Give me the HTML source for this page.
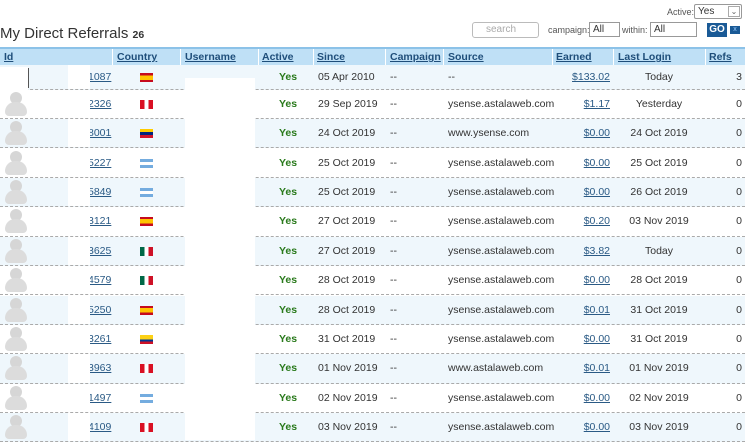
<!DOCTYPE html>
<html><head><meta charset="utf-8"><style>
*{margin:0;padding:0;box-sizing:border-box}
body{width:750px;height:440px;overflow:hidden;background:#fff;font-family:"Liberation Sans",sans-serif;font-size:10px;color:#333;position:relative}
.a{position:absolute;white-space:nowrap}
.h{position:absolute;left:0;top:47px;width:745px;height:18px;background:#bfe0f6;border-top:2px solid #8cc2e8}
.h span{position:absolute;top:2px;font-weight:bold;color:#1f4e7a;text-decoration:underline;font-size:10.5px}
.h i{position:absolute;top:0;width:1px;height:16px;background:#fff}
.r{position:absolute;left:0;width:745px;border-bottom:1px dashed #aaa}
.r.s{background:#eff7fc}
.r span{position:absolute;top:50%;transform:translateY(-50%);font-size:10.5px}
.lk{color:#2a5a85;text-decoration:underline}
.y{color:#2a7a1c;font-weight:bold}
.av{position:absolute;left:5px;top:50%;margin-top:-12px;width:22px;height:25px}
.av b{position:absolute;left:5px;top:0;width:12px;height:12px;border-radius:50%;background:#d6d6d6}
.av u{position:absolute;left:0;top:10px;width:22px;height:14px;border-radius:10px 10px 4px 4px;background:#dcdcdc}
.f{position:absolute;left:140px;top:50%;margin-top:-4px;width:13px;height:9px}
.w{position:absolute;background:#fff}
</style></head><body>
<div class="a" style="left:667px;top:7px;font-size:9px;color:#555">Active:</div>
<div class="a" style="left:694px;top:4px;width:48px;height:15px;border:1px solid #999;border-radius:2px;font-size:10px;padding-left:3px;line-height:13px">Yes<span style="position:absolute;right:1px;top:1px;width:12px;height:11px;border:1px solid #aaa;font-size:8px;line-height:9px;text-align:center;color:#666">⌄</span></div>
<div class="a" style="left:472px;top:22px;width:67px;height:16px;border:1px solid #bbb;border-radius:3px;color:#aaa;font-size:10px;padding-left:13px;line-height:14px">search</div>
<div class="a" style="left:548px;top:25px;font-size:9px;color:#555">campaign:</div>
<div class="a" style="left:589px;top:22px;width:31px;height:15px;border:1px solid #999;font-size:10px;padding-left:3px;line-height:13px">All</div>
<div class="a" style="left:622px;top:25px;font-size:9px;color:#555">within:</div>
<div class="a" style="left:650px;top:22px;width:47px;height:15px;border:1px solid #999;font-size:10px;padding-left:3px;line-height:13px">All</div>
<div class="a" style="left:707px;top:23px;width:20px;height:14px;background:#1a5a96;color:#fff;font-weight:bold;font-size:10px;text-align:center;line-height:14px">GO</div>
<div class="a" style="left:730px;top:26px;width:10px;height:8px;background:#1a5a96;color:#9cf;font-size:7px;text-align:center;line-height:8px">x</div>
<div class="a" style="left:0;top:25px;font-size:15px;color:#333">My Direct Referrals <b style="font-size:10.5px">26</b></div>
<div class="h">
<span style="left:4px">Id</span><i style="left:112px"></i>
<span style="left:117px">Country</span><i style="left:180px"></i>
<span style="left:185px">Username</span><i style="left:258px"></i>
<span style="left:262px">Active</span><i style="left:313px"></i>
<span style="left:317px">Since</span><i style="left:385px"></i>
<span style="left:390px">Campaign</span><i style="left:443px"></i>
<span style="left:448px">Source</span><i style="left:552px"></i>
<span style="left:556px">Earned</span><i style="left:613px"></i>
<span style="left:618px">Last Login</span><i style="left:705px"></i>
<span style="left:709px">Refs</span>
</div>
<div id="rows"></div>
<script>
var D=[["1087","es","05 Apr 2010","--","--","$133.02","Today","3"],
["2326","pe","29 Sep 2019","--","ysense.astalaweb.com","$1.17","Yesterday","0"],
["8001","ve","24 Oct 2019","--","www.ysense.com","$0.00","24 Oct 2019","0"],
["5227","ar","25 Oct 2019","--","ysense.astalaweb.com","$0.00","25 Oct 2019","0"],
["5849","ar","25 Oct 2019","--","ysense.astalaweb.com","$0.00","26 Oct 2019","0"],
["3121","es","27 Oct 2019","--","ysense.astalaweb.com","$0.20","03 Nov 2019","0"],
["3625","mx","27 Oct 2019","--","ysense.astalaweb.com","$3.82","Today","0"],
["4579","mx","28 Oct 2019","--","ysense.astalaweb.com","$0.00","28 Oct 2019","0"],
["5250","es","28 Oct 2019","--","ysense.astalaweb.com","$0.01","31 Oct 2019","0"],
["3261","co","31 Oct 2019","--","ysense.astalaweb.com","$0.00","31 Oct 2019","0"],
["3963","pe","01 Nov 2019","--","www.astalaweb.com","$0.01","01 Nov 2019","0"],
["1497","ar","02 Nov 2019","--","ysense.astalaweb.com","$0.00","02 Nov 2019","0"],
["4109","pe","03 Nov 2019","--","ysense.astalaweb.com","$0.00","03 Nov 2019","0"]];
var F={es:"linear-gradient(#c60b1e 25%,#ffc400 25%,#ffc400 75%,#c60b1e 75%)",pe:"linear-gradient(90deg,#d91023 33%,#fff 33%,#fff 67%,#d91023 67%)",ve:"linear-gradient(#ffcc00 33%,#00247d 33%,#00247d 67%,#cf142b 67%)",ar:"linear-gradient(#74acdf 33%,#fff 33%,#fff 67%,#74acdf 67%)",mx:"linear-gradient(90deg,#006847 33%,#fff 33%,#fff 67%,#ce1126 67%)",co:"linear-gradient(#fcd116 50%,#003893 50%,#003893 75%,#ce1126 75%)"};
var h="";
D.forEach(function(d,i){var c=75+i*29.4,t=i?c-14.7:65,b=c+14.7;
h+='<div class="r'+(i%2==0?' s':'')+'" style="top:'+t+'px;height:'+(b-t)+'px">'+
(i?'<div class="av"><b></b><u></u></div>':'<div class="w" style="left:0;top:2px;width:28px;height:24px"></div><div style="position:absolute;left:28px;top:3px;width:1px;height:20px;background:#555"></div>')+
'<span class="lk" style="left:88px">'+d[0]+'</span><div class="w" style="left:68px;top:0;width:22px;height:100%"></div><div class="f" style="background:'+F[d[1]]+'"></div>'+
'<span class="y" style="left:279px">Yes</span><span style="left:318px">'+d[2]+'</span>'+
'<span style="left:390px">'+d[3]+'</span><span style="left:448px">'+d[4]+'</span>'+
'<span class="lk" style="right:135px">'+d[5]+'</span><span style="left:659px;transform:translate(-50%,-50%)">'+d[6]+'</span>'+
'<span style="right:3px">'+d[7]+'</span></div>';});
h+='<div class="w" style="left:185px;top:78px;width:70px;height:362px"></div>';
document.getElementById("rows").innerHTML=h;
</script>
</body></html>
